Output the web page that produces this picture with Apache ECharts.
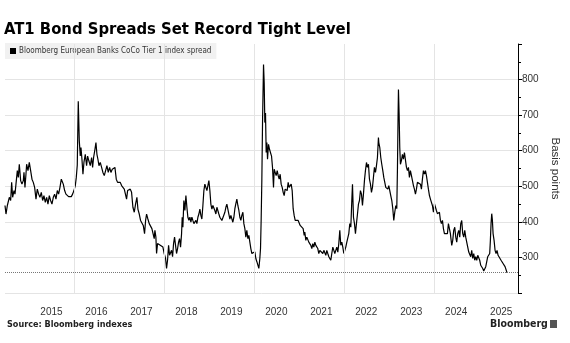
<!DOCTYPE html>
<html><head><meta charset="utf-8">
<script src="https://cdn.jsdelivr.net/npm/echarts@6/dist/echarts.min.js"></script>
<style>html,body{margin:0;padding:0;background:#fff}#c{width:570px;height:343px}</style>
</head><body><div id="c"></div>
<script>
const TITLE = 'AT1 Bond Spreads Set Record Tight Level';
const SERIES_NAME = 'Bloomberg European Banks CoCo Tier 1 index spread';
const SOURCE = 'Source: Bloomberg indexes';
const Y_NAME = 'Basis points';
const X_LABEL_YEARS = [2015,2016,2017,2018,2019,2020,2021,2022,2023,2024,2025];
const GRID_YEARS = [2016,2018,2020,2022,2024];
const RECORD_TIGHT = 257;
// dates as decimal years
const DATES = [
2014.467,2014.489,2014.519,2014.541,2014.563,2014.593,2014.615,2014.637,2014.667,2014.689,
2014.711,2014.741,2014.763,2014.785,2014.815,2014.844,2014.874,2014.889,2014.911,2014.933,
2014.948,2014.978,2015.007,2015.037,2015.067,2015.096,2015.126,2015.156,2015.185,2015.215,
2015.244,2015.274,2015.304,2015.333,2015.363,2015.393,2015.422,2015.452,2015.481,2015.511,
2015.541,2015.570,2015.600,2015.630,2015.659,2015.689,2015.719,2015.748,2015.763,2015.793,
2015.822,2015.852,2015.881,2015.911,2015.941,2015.970,2016.000,2016.030,2016.052,2016.074,
2016.096,2016.119,2016.141,2016.156,2016.178,2016.200,2016.222,2016.252,2016.281,2016.304,
2016.333,2016.363,2016.393,2016.415,2016.437,2016.467,2016.489,2016.511,2016.533,2016.556,
2016.585,2016.615,2016.644,2016.674,2016.704,2016.733,2016.763,2016.793,2016.822,2016.852,
2016.881,2016.911,2016.941,2016.970,2017.000,2017.030,2017.059,2017.089,2017.119,2017.148,
2017.170,2017.193,2017.222,2017.252,2017.281,2017.311,2017.341,2017.370,2017.400,2017.422,
2017.452,2017.481,2017.511,2017.541,2017.570,2017.593,2017.615,2017.644,2017.674,2017.704,
2017.733,2017.763,2017.785,2017.800,2017.822,2017.837,2017.859,2017.889,2017.919,2017.948,
2017.978,2018.007,2018.037,2018.059,2018.081,2018.104,2018.126,2018.148,2018.170,2018.193,
2018.215,2018.237,2018.259,2018.281,2018.304,2018.326,2018.348,2018.370,2018.393,2018.407,
2018.422,2018.444,2018.467,2018.489,2018.511,2018.533,2018.556,2018.578,2018.600,2018.622,
2018.644,2018.667,2018.689,2018.711,2018.733,2018.756,2018.778,2018.800,2018.822,2018.844,
2018.867,2018.889,2018.911,2018.933,2018.956,2018.978,2019.000,2019.022,2019.044,2019.067,
2019.089,2019.111,2019.133,2019.156,2019.178,2019.200,2019.222,2019.244,2019.267,2019.289,
2019.311,2019.333,2019.356,2019.378,2019.400,2019.422,2019.444,2019.467,2019.489,2019.511,
2019.533,2019.556,2019.578,2019.600,2019.622,2019.644,2019.667,2019.689,2019.711,2019.733,
2019.756,2019.778,2019.800,2019.822,2019.844,2019.867,2019.889,2019.911,2019.933,2019.956,
2019.978,2020.000,2020.022,2020.044,2020.067,2020.089,2020.111,2020.133,2020.148,2020.163,
2020.178,2020.193,2020.215,2020.230,2020.244,2020.259,2020.274,2020.289,2020.304,2020.326,
2020.348,2020.370,2020.393,2020.415,2020.437,2020.452,2020.474,2020.496,2020.519,2020.541,
2020.563,2020.585,2020.607,2020.630,2020.652,2020.674,2020.696,2020.719,2020.741,2020.763,
2020.785,2020.807,2020.830,2020.852,2020.874,2020.896,2020.919,2020.941,2020.963,2020.985,
2021.007,2021.030,2021.052,2021.074,2021.096,2021.119,2021.133,2021.156,2021.178,2021.200,
2021.222,2021.244,2021.267,2021.289,2021.311,2021.333,2021.356,2021.378,2021.400,2021.422,
2021.444,2021.467,2021.489,2021.511,2021.533,2021.556,2021.578,2021.600,2021.622,2021.644,
2021.667,2021.689,2021.711,2021.733,2021.756,2021.778,2021.800,2021.822,2021.844,2021.867,
2021.889,2021.911,2021.933,2021.956,2021.978,2022.000,2022.022,2022.044,2022.067,2022.089,
2022.111,2022.133,2022.156,2022.178,2022.193,2022.215,2022.237,2022.259,2022.281,2022.304,
2022.326,2022.348,2022.370,2022.393,2022.415,2022.437,2022.459,2022.481,2022.504,2022.526,
2022.548,2022.570,2022.593,2022.615,2022.637,2022.659,2022.681,2022.704,2022.726,2022.748,
2022.770,2022.778,2022.800,2022.822,2022.844,2022.867,2022.889,2022.911,2022.933,2022.956,
2022.978,2023.000,2023.022,2023.044,2023.067,2023.089,2023.111,2023.133,2023.156,2023.178,
2023.193,2023.207,2023.215,2023.230,2023.244,2023.259,2023.281,2023.304,2023.326,2023.348,
2023.370,2023.393,2023.415,2023.437,2023.459,2023.481,2023.504,2023.526,2023.548,2023.570,
2023.593,2023.615,2023.637,2023.659,2023.681,2023.704,2023.726,2023.748,2023.770,2023.793,
2023.815,2023.837,2023.859,2023.881,2023.904,2023.926,2023.948,2023.970,2023.993,2024.015,
2024.037,2024.059,2024.081,2024.104,2024.126,2024.148,2024.170,2024.193,2024.215,2024.237,
2024.259,2024.281,2024.304,2024.326,2024.348,2024.370,2024.378,2024.400,2024.422,2024.444,
2024.467,2024.489,2024.511,2024.533,2024.556,2024.578,2024.600,2024.622,2024.644,2024.667,
2024.689,2024.711,2024.733,2024.756,2024.778,2024.800,2024.822,2024.844,2024.867,2024.889,
2024.911,2024.933,2024.956,2024.978,2025.000,2025.022,2025.044,2025.067,2025.089,2025.111,
2025.133,2025.156,2025.178,2025.200,2025.222,2025.244,2025.259,2025.274,2025.289,2025.304,
2025.319,2025.341,2025.363,2025.385,2025.407,2025.430,2025.452,2025.474,2025.496,2025.519,
2025.541,2025.563,2025.585,2025.607,2025.630
];
const SPREADS = [
446,422,446,441,469,460,511,469,488,478,
506,544,525,562,516,506,516,539,497,534,
562,544,567,544,520,511,497,464,492,478,
469,483,460,474,455,469,450,474,460,450,
469,478,464,488,478,497,520,516,506,488,
478,474,471,474,471,478,488,502,525,560,
739,627,585,609,576,534,567,590,558,585,
571,558,581,553,581,604,623,590,576,558,
567,553,539,530,544,558,539,553,539,548,
544,553,520,511,506,511,502,506,492,497,
464,488,483,492,483,441,427,450,469,436,
422,404,399,390,367,404,422,408,395,399,
381,385,353,376,357,311,339,343,334,339,
329,311,297,269,292,334,306,311,320,302,
339,357,334,311,325,343,353,329,367,413,
385,460,432,474,441,413,404,413,399,413,
404,395,390,404,395,413,422,436,418,408,
446,488,506,497,488,502,516,488,450,436,
446,441,432,422,441,446,422,413,418,404,
399,408,427,441,450,436,422,408,418,413,
399,413,437,451,464,446,432,413,404,418,
427,395,381,357,376,353,362,343,325,311,
316,306,316,297,288,283,269,297,325,409,
520,679,842,790,679,706,595,623,576,618,
604,609,585,553,497,548,539,530,544,530,
520,534,506,497,483,474,492,497,488,511,
497,492,506,488,437,418,404,409,399,404,
399,390,395,385,381,362,371,348,357,353,
343,348,334,325,339,329,343,334,329,325,
311,320,315,325,311,320,315,306,320,311,
302,306,292,311,329,320,311,320,329,315,
339,376,334,343,329,311,320,329,343,339,
367,395,385,460,506,413,395,367,395,422,
450,460,488,478,446,478,516,544,567,553,
562,520,506,483,497,525,553,539,558,581,
637,623,609,581,562,544,525,511,497,502,
492,502,497,474,460,437,404,427,446,437,
553,702,772,702,609,562,572,590,576,595,
599,553,544,553,525,544,530,516,502,492,
478,492,511,506,516,506,492,520,544,534,
544,530,511,492,474,464,460,446,427,451,
446,432,423,418,427,404,395,404,381,367,
362,371,367,395,381,367,357,334,348,376,
385,357,343,367,376,357,395,404,367,357,
376,357,343,339,315,311,302,320,297,311,
292,302,292,306,302,292,278,283,269,262,
259,274,288,302,297,311,348,395,423,404,
367,348,320,311,320,306,311,302,292,297,
283,278,274,269,257
];
const data = DATES.map((d, i) => [d, SPREADS[i]]);

const NARROW = '"Liberation Sans Narrow","DejaVu Sans Condensed",sans-serif';
const REG = '"Liberation Sans","DejaVu Sans",sans-serif';
const chart = echarts.init(document.getElementById('c'), null, {renderer: 'canvas'});
chart.setOption({
  animation: false,
  backgroundColor: '#fff',
  title: {
    text: TITLE, left: 4, top: 21, padding: 0,
    textStyle: {fontSize: 16.5, fontWeight: 'bold', color: '#000', fontFamily: NARROW}
  },
  legend: {
    left: 5, top: 43, padding: [4, 5, 4, 5],
    backgroundColor: '#f1f1f1',
    icon: 'rect', itemWidth: 6, itemHeight: 6, itemGap: 4,
    textStyle: {fontSize: 8, color: '#333', fontFamily: NARROW, padding: [0, 0, 0, -2]},
    data: [SERIES_NAME]
  },
  grid: {left: 5, right: 52, top: 44, bottom: 50},
  xAxis: {
    type: 'value', min: 2014.467, max: 2025.873,
    axisLine: {show: false}, axisTick: {show: false}, splitLine: {show: false},
    axisLabel: {
      customValues: X_LABEL_YEARS.map(y => y + 0.5),
      formatter: v => String(Math.floor(v)),
      fontSize: 10, color: '#333', margin: 14, fontFamily: REG
    }
  },
  yAxis: {
    type: 'value', position: 'right', min: 200, max: 900, interval: 100,
    name: Y_NAME, nameLocation: 'middle', nameRotate: -90, nameGap: 30,
    nameTextStyle: {fontSize: 11.5, color: '#333', fontFamily: REG},
    axisLine: {show: true, lineStyle: {color: '#000', width: 1}},
    axisTick: {show: true, length: 4, lineStyle: {color: '#000'}},
    minorTick: {show: true, splitNumber: 2, length: 3, lineStyle: {color: '#000'}},
    axisLabel: {showMinLabel: false, showMaxLabel: false, fontSize: 10, color: '#333', margin: 4, fontFamily: REG},
    splitLine: {show: true, showMaxLine: false, lineStyle: {color: '#e4e4e4', width: 1}}
  },
  series: [{
    name: SERIES_NAME, type: 'line', data: data, showSymbol: false, symbol: 'none',
    lineStyle: {color: '#000', width: 1.2}, itemStyle: {color: '#000'},
    z: 3,
    markLine: {
      silent: true, symbol: 'none', label: {show: false}, animation: false,
      data: GRID_YEARS.map(y => ({xAxis: y, lineStyle: {color: '#e4e4e4', type: 'solid', width: 1}}))
        .concat([{yAxis: RECORD_TIGHT, lineStyle: {color: '#777', type: 'dotted', width: 1}}])
    }
  }],
  graphic: [
    {type: 'text', left: 7, top: 320, style: {text: SOURCE, font: 'bold 9px ' + NARROW, fill: '#222'}},
    {type: 'text', left: 490, top: 319, style: {text: 'Bloomberg', font: 'bold 10.5px ' + NARROW, fill: '#222'}},
    {type: 'rect', left: 550, top: 320, shape: {width: 7, height: 8}, style: {fill: '#555'}}
  ]
});
</script></body></html>
